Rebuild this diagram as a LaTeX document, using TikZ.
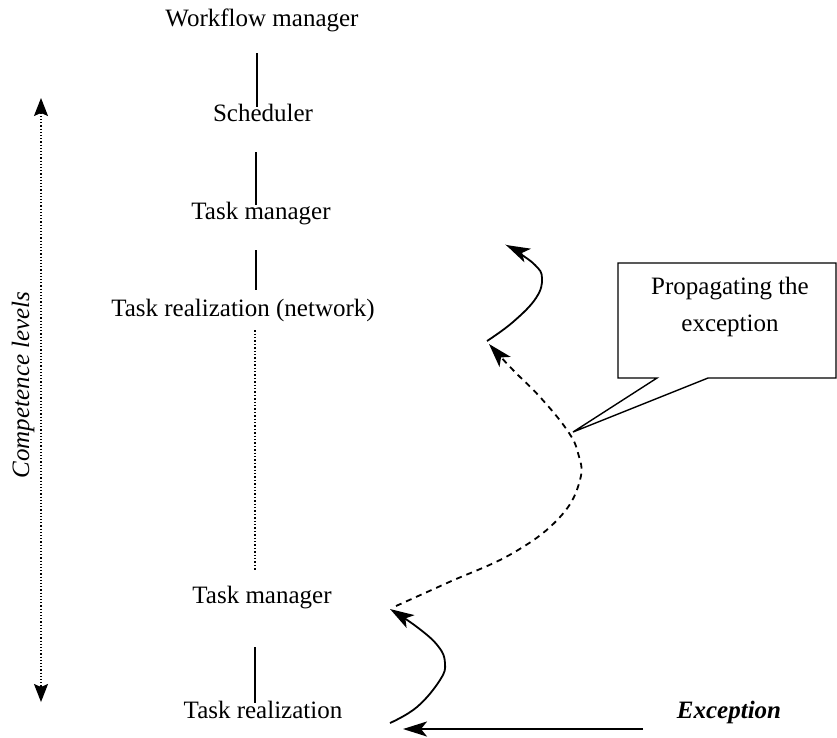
\documentclass[tikz,border=0pt]{standalone}
\usepackage{fontspec}
\setmainfont{Liberation Serif}
\usetikzlibrary{arrows.meta}
\begin{document}
\begin{tikzpicture}[x=1pt,y=-1pt,
  lbl/.style={font=\fontsize{25}{30}\selectfont, inner sep=0pt, text height=17pt, text depth=5pt},
  link/.style={line width=1.4pt},
  biglink/.style={line width=2.6pt},
  tip/.style={-{Stealth[length=24pt,width=15pt,inset=6pt]}},
  flow/.style={line width=1.8pt, tip},
  dashflow/.style={flow, dash pattern=on 6pt off 5pt},
  callout/.style={line width=1.4pt}]
\useasboundingbox (0,0) rectangle (837,737);

% competence axis
\coordinate (axtop) at (41,98);
\coordinate (axbot) at (41,702);
\draw[line width=1.2pt, dotted, {Stealth[length=18pt,width=14pt,inset=3pt]}-{Stealth[length=18pt,width=14pt,inset=3pt]}] (axtop) -- (axbot);
\node[lbl, rotate=90, font=\fontsize{25}{30}\selectfont\itshape] (comp) at (23,385) {Competence levels};

% levels
\node[lbl] (wm)  at (262,20)  {Workflow manager};
\node[lbl] (sch) at (263,115) {Scheduler};
\node[lbl] (tm1) at (261,213) {Task manager};
\node[lbl] (trn) at (243,310) {Task realization (network)};
\node[lbl] (tm2) at (262,597) {Task manager};
\node[lbl] (tr)  at (263,712) {Task realization};

\draw[link, shorten <=22pt, shorten >=-3pt] ([xshift=-5pt]wm.south) -- ([xshift=-6pt]sch.north);
\draw[biglink, shorten <=26pt, shorten >=-3pt] ([xshift=-7pt]sch.south) -- ([xshift=-5pt]tm1.north);
\draw[link, shorten <=26pt, shorten >=9pt] ([xshift=-5pt]tm1.south) -- ([xshift=13pt]trn.north);
\draw[link, dotted, line width=1.2pt, shorten <=9pt, shorten >=16pt] ([xshift=12pt]trn.south) -- ([xshift=-7pt]tm2.north);
\draw[link, shorten <=39pt, shorten >=-2pt] ([xshift=-7pt]tm2.south) -- ([xshift=-8pt]tr.north);

% exception entering at the bottom
\node[lbl, font=\fontsize{25}{30}\selectfont\bfseries\itshape] (exc) at (729,712) {Exception};
\coordinate (excstart) at (643,729);
\coordinate (excend) at (403,729);
\draw[flow, line width=2.2pt] (excstart) -- (excend);

% propagation path
\draw[flow] plot[smooth, tension=0.7] coordinates
  {(390,723) (417,707) (440,680) (445,663) (438,646) (417,627) (390,609)};
\draw[dashflow] plot[smooth, tension=0.7] coordinates
  {(396,606) (447,583) (513,553) (560,517) (580,480) (578,453) (567,430) (540,397) (513,370) (489,344)};
\draw[flow] plot[smooth, tension=0.7] coordinates
  {(487,341) (513,322) (536,298) (542,278) (535,265) (516,251) (506,245)};

% callout
\coordinate (ctip) at (573,432);
\draw[callout] (657,378) -- (618,378) -- (618,263) -- (836,263) -- (836,378) -- (708,378) -- (ctip) -- cycle;
\node[font=\fontsize{25}{37}\selectfont, align=center] (note) at (730,307) {Propagating the\\exception};
\end{tikzpicture}
\end{document}
